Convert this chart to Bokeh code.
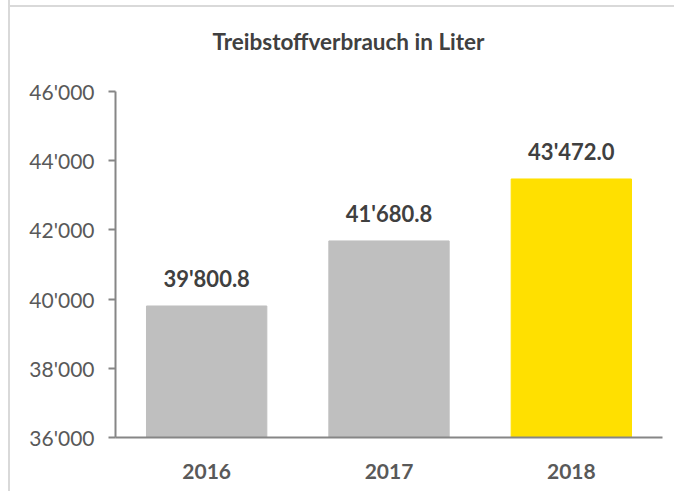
from bokeh.plotting import figure
from bokeh.models import ColumnDataSource, LabelSet, CustomJSTickFormatter, Range1d, FixedTicker
from bokeh.core.properties import value
from bokeh.embed import file_html
from bokeh.resources import INLINE

years = ["2016", "2017", "2018"]
fuel_liters = [39800.8, 41680.8, 43472.0]
bar_colors = ["#BFBFBF", "#BFBFBF", "#FFE000"]
y_ticks = [36000, 38000, 40000, 42000, 44000, 46000]
title_text = "Treibstoffverbrauch in Liter"

value_labels = [f"{v:,.1f}".replace(",", "'") for v in fuel_liters]
src = ColumnDataSource(dict(x=years, top=fuel_liters, color=bar_colors, label=value_labels))

W, H = 666, 503
FONT = "Lato"

p = figure(x_range=years, y_range=Range1d(y_ticks[0], y_ticks[-1]),
           width=W, height=H, output_backend="svg", toolbar_location=None,
           min_border_left=105, min_border_right=14, min_border_top=0, min_border_bottom=54,
           styles={"margin-top": "-12px", "margin-left": "8px",
                   "border-left": "2px solid #D9D9D9",
                   "background": "linear-gradient(to bottom, #FFFFFF 0px, #FFFFFF 17px, #D9D9D9 17px, #D9D9D9 19px, #FFFFFF 19px, #FFFFFF 100%)"})
p.border_fill_color = None
p.background_fill_color = "#FFFFFF"

p.title.text = title_text
p.title.align = "left"
p.title.offset = 97
p.title.standoff = 74
p.title.text_font = FONT
p.title.text_font_style = "bold"
p.title.text_font_size = "22.5px"
p.title.text_color = "#404040"

p.vbar(x="x", top="top", bottom=y_ticks[0], width=0.66, color="color", source=src)

p.add_layout(LabelSet(x="x", y="top", text="label", source=src, text_align="center",
                      text_baseline="alphabetic", y_offset=19, text_font=value(FONT),
                      text_font_style="bold", text_font_size="22px", text_color="#404040"))

p.xgrid.visible = False
p.ygrid.visible = False
p.outline_line_color = None

p.yaxis.ticker = FixedTicker(ticks=y_ticks)
p.yaxis.formatter = CustomJSTickFormatter(code="return tick.toString().replace(/\\B(?=(\\d{3})+(?!\\d))/g, \"'\");")
p.yaxis.major_tick_out = 7
p.yaxis.major_tick_in = 0
p.yaxis.minor_tick_line_color = None
p.yaxis.axis_line_color = "#868686"
p.yaxis.axis_line_width = 2
p.yaxis.major_tick_line_color = "#868686"
p.yaxis.major_tick_line_width = 2
p.yaxis.major_label_text_font = FONT
p.yaxis.major_label_text_font_size = "21px"
p.yaxis.major_label_text_color = "#595959"
p.yaxis.major_label_standoff = 14

p.xaxis.axis_line_color = "#868686"
p.xaxis.axis_line_width = 2
p.xaxis.major_tick_line_color = None
p.xaxis.minor_tick_line_color = None
p.xaxis.major_label_text_font = FONT
p.xaxis.major_label_text_font_style = "bold"
p.xaxis.major_label_text_font_size = "21px"
p.xaxis.major_label_text_color = "#595959"
p.xaxis.major_label_standoff = 20

open("out.html", "w").write(file_html(p, INLINE))
